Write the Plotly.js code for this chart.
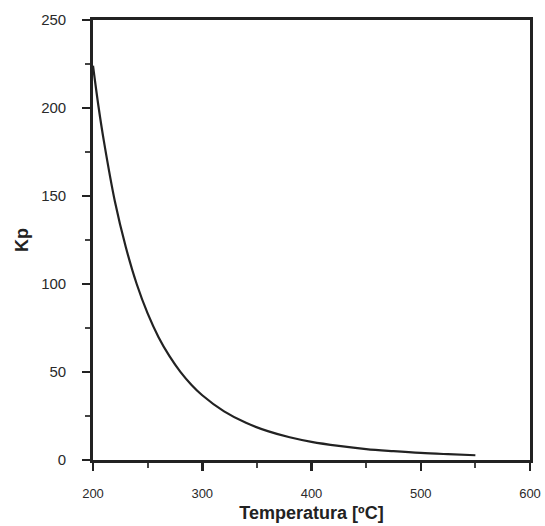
<!DOCTYPE html>
<html>
<head>
<meta charset="utf-8">
<script src="https://cdn.plot.ly/plotly-3.0.1.min.js"></script>
<style>html,body{margin:0;padding:0;background:#fff;}#chart{width:545px;height:526px;}</style>
</head>
<body>
<div id="chart"></div>
<script>
// Data
const temperature = [200, 205, 210, 220, 230, 240, 250, 260, 270, 280, 290, 300, 320, 340, 360, 380, 400, 425, 450, 475, 500, 525, 550];
const kp = [224, 201, 181, 147, 121, 100, 83.3, 69.8, 59.0, 50.1, 42.8, 36.8, 27.6, 21.1, 16.4, 12.9, 10.3, 8.0, 6.2, 5.0, 4.0, 3.3, 2.7];
const xTickVals = [200, 300, 400, 500, 600];
const xTickText = ["200", "300", "400", "500", "600"];
const yTickVals = [0, 50, 100, 150, 200, 250];
const yTickText = ["0", "50", "100", "150", "200", "250"];

const trace = {
  x: temperature,
  y: kp,
  type: 'scatter',
  mode: 'lines',
  line: {color: '#222', width: 2.2, shape: 'spline', smoothing: 1},
  hoverinfo: 'skip'
};

const axisCommon = {
  showgrid: false,
  zeroline: false,
  showline: true,
  linecolor: '#222',
  linewidth: 2.8,
  mirror: true,
  ticks: 'outside',
  tickcolor: '#222',
  tickwidth: 2.5,
  ticklen: 8
};

const layout = {
  width: 545,
  height: 526,
  margin: {l: 93, r: 15, t: 20, b: 66},
  paper_bgcolor: '#fff',
  plot_bgcolor: '#fff',
  showlegend: false,
  font: {family: 'Liberation Sans, Arial, sans-serif', color: '#333'},
  xaxis: Object.assign({}, axisCommon, {
    range: [200, 600],
    tickmode: 'array',
    tickvals: xTickVals,
    ticktext: xTickText,
    tickfont: {size: 13, color: '#2a2a2a'},
    ticklabelstandoff: 12,
    minor: {dtick: 50, ticks: 'outside', ticklen: 5, tickwidth: 2, tickcolor: '#444'},
    title: {text: '<b>Temperatura [ºC]</b>', font: {size: 18, color: '#222'}, standoff: 6}
  }),
  yaxis: Object.assign({}, axisCommon, {
    range: [0, 250],
    tickmode: 'array',
    tickvals: yTickVals,
    ticktext: yTickText,
    tickfont: {size: 15, color: '#2a2a2a'},
    ticklabelstandoff: 13,
    minor: {dtick: 25, ticks: 'outside', ticklen: 5, tickwidth: 2, tickcolor: '#444'},
    title: {text: '<b>Kp</b>', font: {size: 18, color: '#222'}, standoff: 8}
  })
};

Plotly.newPlot('chart', [trace], layout, {staticPlot: true, displayModeBar: false});
</script>
</body>
</html>
